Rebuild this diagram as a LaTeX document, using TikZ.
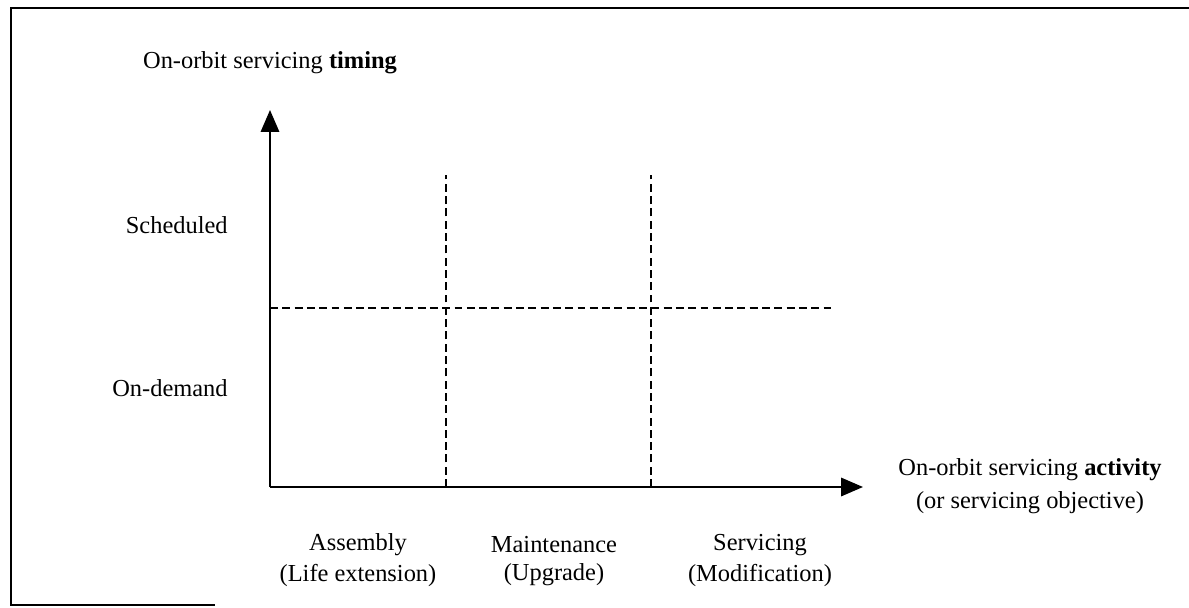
\documentclass[tikz,border=0pt]{standalone}
\usepackage{fontspec}
\setmainfont{Liberation Serif}
\usetikzlibrary{arrows.meta}

\def\xscale{1}
\def\yscale{1}

\tikzset{
	axis/.style={line width=1.1pt, -{Triangle[length=12.5pt, width=10.5pt]}},
	divider/.style={line width=1pt, dash pattern=on 4.5pt off 2.5pt},
	lbl/.style={font=\fontsize{13.9}{16}\selectfont, inner sep=0pt}
}

\begin{document}
\begin{tikzpicture}[x=\xscale cm, y=\yscale cm]
			\useasboundingbox (-5.40, -2.40) rectangle (18.38, 9.74);
			% frame of the scanned page
			\draw[line width=0.9pt] (-1.1, -2.36) -- (-5.18, -2.36) -- (-5.18, 9.58) -- (18.38, 9.58);
			
			\coordinate (O) at (0, 0);
			\coordinate (xend) at (11.86, 0);
			\coordinate (yend) at (0, 7.54);
			
			\draw[axis] (O) -- (xend);
			\draw[axis] (O) -- (yend);
			
			\coordinate (h1) at (0, 3.58);
			\coordinate (h2) at (11.3, 3.58);
			\draw[divider] (h1) -- (h2);
			
			\foreach \x in {3.52, 7.62} {
				\coordinate (b) at (\x, 0);
				\coordinate (t) at (\x, 6.24);
				\draw[divider] (b) -- (t);
			}
			
			\node[lbl] (ylabel) at (0, 8.48) {On-orbit servicing \textbf{timing}};
			\node[lbl, anchor=east] (sched) at (-0.84, 5.24) {Scheduled};
			\node[lbl, anchor=east] (ondem) at (-0.84, 1.98) {On-demand};
			
			\node[lbl] (xlabel) at (15.2, 0.34) {On-orbit servicing \textbf{activity}};
			\node[lbl] (xlabel2) at (15.2, -0.32) {(or servicing objective)};
			
			\node[lbl] (assem) at (1.76, -1.16) {Assembly};
			\node[lbl] (assem2) at (1.76, -1.76) {(Life extension)};
			\node[lbl] (maint) at (5.68, -1.16) {Maintenance};
			\node[lbl] (maint2) at (5.68, -1.76) {(Upgrade)};
			\node[lbl] (serv) at (9.8, -1.16) {Servicing};
			\node[lbl] (serv2) at (9.8, -1.76) {(Modification)};
		\end{tikzpicture}
\end{document}
